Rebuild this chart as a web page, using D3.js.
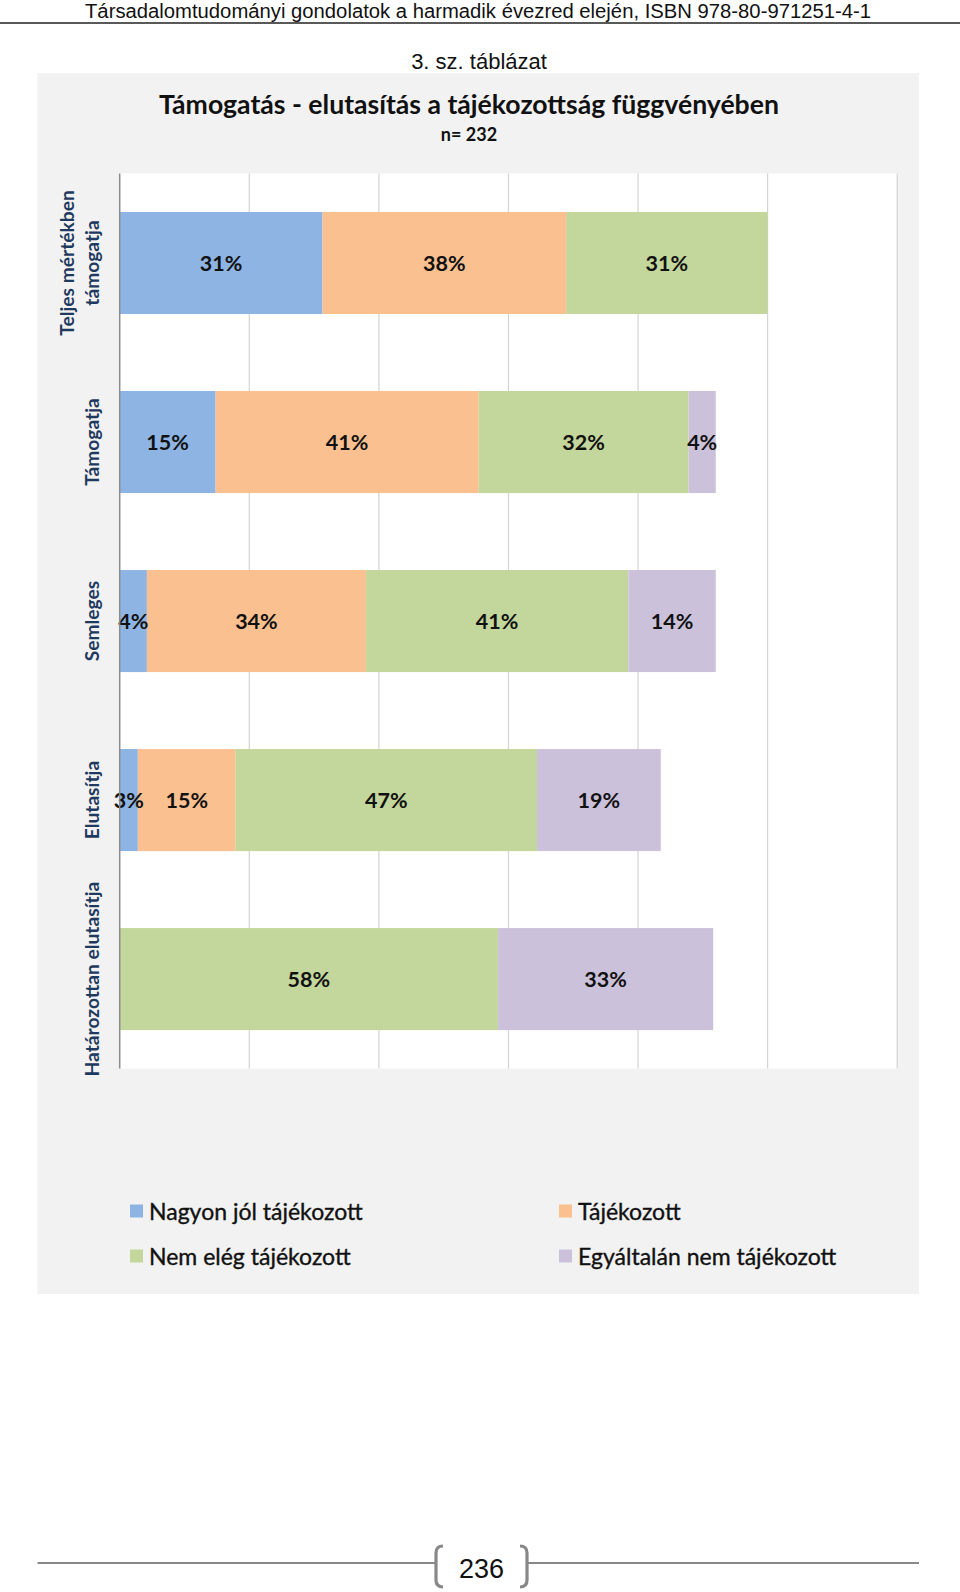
<!DOCTYPE html>
<html>
<head>
<meta charset="utf-8">
<script src="https://cdn.jsdelivr.net/npm/d3@7"></script>
<style>
  html, body { margin: 0; padding: 0; background: #ffffff; }
  svg { display: block; }
</style>
</head>
<body>
<script>
// ---- data (percent shares; labels show rounded values) ----
const categories = ["Teljes mértékben\ntámogatja", "Támogatja", "Semleges", "Elutasítja", "Határozottan elutasítja"];
const seriesNames = ["Nagyon jól tájékozott", "Tájékozott", "Nem elég tájékozott", "Egyáltalán nem tájékozott"];
const seriesColors = ["#8EB4E3", "#FAC090", "#C3D69B", "#CCC1DA"];
const nagyonJol   = [31.3, 14.8, 4.2, 2.8, 0];
const tajekozott  = [37.6, 40.6, 33.8, 15.1, 0];
const nemEleg     = [31.1, 32.4, 40.5, 46.5, 58.4];
const egyaltalan  = [0, 4.2, 13.5, 19.1, 33.2];
const xTicks = [0, 0.2, 0.4, 0.6, 0.8, 1.0, 1.2];
const headerText = "Társadalomtudományi gondolatok a harmadik évezred elején, ISBN 978-80-971251-4-1";
const captionText = "3. sz. táblázat";
const titleText = "Támogatás - elutasítás a tájékozottság függvényében";
const subtitleText = "n= 232";
const pageNumber = "236";

const W = 960, H = 1592;
const svg = d3.select("body").append("svg").attr("width", W).attr("height", H);

// page header
svg.append("text")
  .attr("x", 478).attr("y", 17.5)
  .attr("text-anchor", "middle")
  .attr("font-family", "Liberation Sans, Arial, sans-serif")
  .attr("font-size", 20).attr("fill", "#111")
  .attr("textLength", 786).attr("lengthAdjust", "spacingAndGlyphs")
  .text(headerText);
svg.append("line").attr("x1", 0).attr("x2", W).attr("y1", 23).attr("y2", 23)
  .attr("stroke", "#222").attr("stroke-width", 1.5);

svg.append("text")
  .attr("x", 479).attr("y", 68.5)
  .attr("text-anchor", "middle")
  .attr("font-family", "Liberation Sans, Arial, sans-serif")
  .attr("font-size", 22).attr("fill", "#111")
  .text(captionText);

// chart panel
const panel = { x: 37.5, y: 73, w: 881.5, h: 1221 };
svg.append("rect").attr("x", panel.x).attr("y", panel.y)
  .attr("width", panel.w).attr("height", panel.h).attr("fill", "#F2F2F2");

const font = "Lato, Calibri, Carlito, sans-serif";

// title
const title = svg.append("text")
  .attr("x", 469).attr("y", 113.5)
  .attr("text-anchor", "middle")
  .attr("font-family", font).attr("font-weight", 700)
  .attr("font-size", 25).attr("fill", "#111")
  .text(titleText);
{
  const len = title.node().getComputedTextLength();
  title.attr("font-size", 25 * 620 / len);
}
svg.append("text")
  .attr("x", 469).attr("y", 141)
  .attr("text-anchor", "middle")
  .attr("font-family", font).attr("font-weight", 700)
  .attr("font-size", 18).attr("fill", "#111")
  .text(subtitleText);

// plot area
const plot = { left: 119.7, right: 897.2, top: 173.5, bottom: 1068.6 };
const x = d3.scaleLinear().domain([0, 1.2]).range([plot.left, plot.right]);
const y = d3.scaleBand().domain(categories).range([plot.top, plot.bottom])
  .paddingInner(0.43).paddingOuter(0.215);

svg.append("rect").attr("x", plot.left).attr("y", plot.top)
  .attr("width", plot.right - plot.left).attr("height", plot.bottom - plot.top)
  .attr("fill", "#ffffff");

// gridlines
svg.append("g").selectAll("line").data(xTicks.filter(t => t > 0)).join("line")
  .attr("x1", d => x(d)).attr("x2", d => x(d))
  .attr("y1", plot.top).attr("y2", plot.bottom)
  .attr("stroke", "#D4D4D4").attr("stroke-width", 1.2);

// stacked data
const rows = categories.map((c, i) => ({
  cat: c,
  values: [nagyonJol[i], tajekozott[i], nemEleg[i], egyaltalan[i]]
}));
const segs = [];
rows.forEach(r => {
  let acc = 0;
  r.values.forEach((v, k) => {
    if (v > 0) segs.push({ cat: r.cat, k, v, x0: acc / 100, x1: (acc + v) / 100 });
    acc += v;
  });
});

svg.append("g").selectAll("rect").data(segs).join("rect")
  .attr("x", d => x(d.x0)).attr("y", d => y(d.cat))
  .attr("width", d => x(d.x1) - x(d.x0)).attr("height", y.bandwidth())
  .attr("fill", d => seriesColors[d.k]);

svg.append("g").selectAll("text").data(segs).join("text")
  .attr("x", d => (x(d.x0) + x(d.x1)) / 2)
  .attr("y", d => y(d.cat) + y.bandwidth() / 2)
  .attr("text-anchor", "middle").attr("dominant-baseline", "central")
  .attr("font-family", font).attr("font-weight", 700)
  .attr("font-size", 21.5).attr("fill", "#111")
  .text(d => Math.round(d.v) + "%");

// axis line at 0
svg.append("line").attr("x1", x(0)).attr("x2", x(0))
  .attr("y1", plot.top).attr("y2", plot.bottom)
  .attr("stroke", "#8C8C8C").attr("stroke-width", 1.5);

// category labels (rotated)
const catG = svg.append("g").selectAll("g").data(categories).join("g")
  .attr("transform", d => `translate(91.5, ${y(d) + y.bandwidth() / 2}) rotate(-90)`);
catG.each(function(d) {
  const lines = d.split("\n");
  const t = d3.select(this).append("text")
    .attr("text-anchor", "middle")
    .attr("font-family", font).attr("font-weight", 700)
    .attr("font-size", 19.2).attr("fill", "#1F3A60");
  lines.forEach((ln, i) => {
    t.append("tspan").attr("x", 0)
      .attr("y", -(lines.length - 1 - i) * 25.5)
      .attr("dominant-baseline", "central")
      .text(ln);
  });
});

// legend
const legendPos = [
  { sx: 130, tx: 149, cy: 1211 },
  { sx: 559, tx: 578, cy: 1211 },
  { sx: 130, tx: 149, cy: 1256 },
  { sx: 559, tx: 578, cy: 1256 }
];
const leg = svg.append("g").selectAll("g").data(seriesNames).join("g");
leg.append("rect")
  .attr("x", (d, i) => legendPos[i].sx).attr("y", (d, i) => legendPos[i].cy - 6.5)
  .attr("width", 13).attr("height", 13)
  .attr("fill", (d, i) => seriesColors[i]);
leg.append("text")
  .attr("x", (d, i) => legendPos[i].tx).attr("y", (d, i) => legendPos[i].cy)
  .attr("dominant-baseline", "central")
  .attr("font-family", font).attr("font-weight", 400)
  .attr("font-size", 23).attr("fill", "#111")
  .attr("stroke", "#111").attr("stroke-width", 0.35)
  .text(d => d);

// footer
svg.append("line").attr("x1", 37.5).attr("x2", 436).attr("y1", 1563).attr("y2", 1563)
  .attr("stroke", "#888").attr("stroke-width", 2.2);
svg.append("line").attr("x1", 527).attr("x2", 919).attr("y1", 1563).attr("y2", 1563)
  .attr("stroke", "#888").attr("stroke-width", 2.2);
svg.append("path")
  .attr("d", "M443,1546 Q436,1546 436,1553 L436,1580 Q436,1587 443,1587")
  .attr("fill", "none").attr("stroke", "#888").attr("stroke-width", 3.2);
svg.append("path")
  .attr("d", "M520,1546 Q527,1546 527,1553 L527,1580 Q527,1587 520,1587")
  .attr("fill", "none").attr("stroke", "#888").attr("stroke-width", 3.2);
svg.append("text")
  .attr("x", 481.5).attr("y", 1578)
  .attr("text-anchor", "middle")
  .attr("font-family", "Liberation Sans, Arial, sans-serif")
  .attr("font-size", 27).attr("fill", "#111")
  .text(pageNumber);
</script>
</body>
</html>
